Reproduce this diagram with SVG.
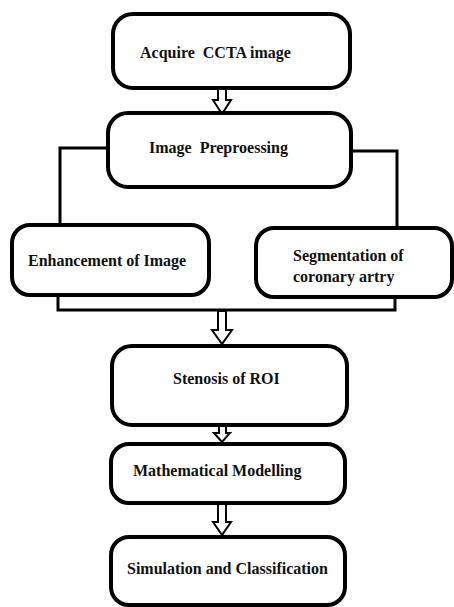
<svg xmlns="http://www.w3.org/2000/svg" width="454" height="607" viewBox="0 0 454 607">
<style>
.box{fill:#fff;stroke:#000;stroke-width:4}
.t{font-family:'Liberation Serif', 'Times New Roman', Times, serif;font-weight:700;font-size:16px;fill:#111}
.ln{fill:none;stroke:#000;stroke-width:3}
.ar{fill:#fff;stroke:#000;stroke-width:2;stroke-linejoin:miter}
</style>
<rect width="454" height="607" fill="#fff"/>
<g id="connectors">
<polyline class="ln" points="107,148 60,148 60,223"/>
<polyline class="ln" points="352,151 397,151 397,228"/>
<polyline class="ln" points="58,297 58,310 395,310 395,299"/>
<polygon class="ar" points="218,88 226,88 226,100 231,100 222,114 213,100 218,100"/>
<polygon class="ar" points="218,311 226,311 226,330 232,330 222,344 212,330 218,330"/>
<polygon class="ar" points="219,426 226,426 226,433 230,433 222,442 214,433 219,433"/>
<polygon class="ar" points="218,504 226,504 226,522 231,522 222,535 213,522 218,522"/>
</g>
<g id="acquire">
<rect class="box" x="113" y="14" width="237" height="74" rx="20"/>
<text class="t" font-family="Liberation Serif, serif" x="140" y="58" xml:space="preserve">Acquire  CCTA image</text>
</g>
<g id="preprocessing">
<rect class="box" x="108" y="113" width="243" height="74" rx="20"/>
<text class="t" font-family="Liberation Serif, serif" x="149" y="153" xml:space="preserve">Image  Preproessing</text>
</g>
<g id="enhancement">
<rect class="box" x="12" y="225" width="197" height="70" rx="18"/>
<text class="t" font-family="Liberation Serif, serif" x="28" y="266">Enhancement of Image</text>
</g>
<g id="segmentation">
<rect class="box" x="256" y="228" width="196" height="69" rx="18"/>
<text class="t" font-family="Liberation Serif, serif" x="293" y="261">Segmentation of</text>
<text class="t" font-family="Liberation Serif, serif" x="293" y="282">coronary artry</text>
</g>
<g id="stenosis">
<rect class="box" x="112" y="346" width="235" height="79" rx="20"/>
<text class="t" font-family="Liberation Serif, serif" x="173" y="384">Stenosis of ROI</text>
</g>
<g id="modelling">
<rect class="box" x="111" y="444" width="234" height="59" rx="18"/>
<text class="t" font-family="Liberation Serif, serif" x="133" y="476">Mathematical Modelling</text>
</g>
<g id="simulation">
<rect class="box" x="111" y="537" width="234" height="68" rx="18"/>
<text class="t" font-family="Liberation Serif, serif" x="127" y="574">Simulation and Classification</text>
</g>
</svg>
